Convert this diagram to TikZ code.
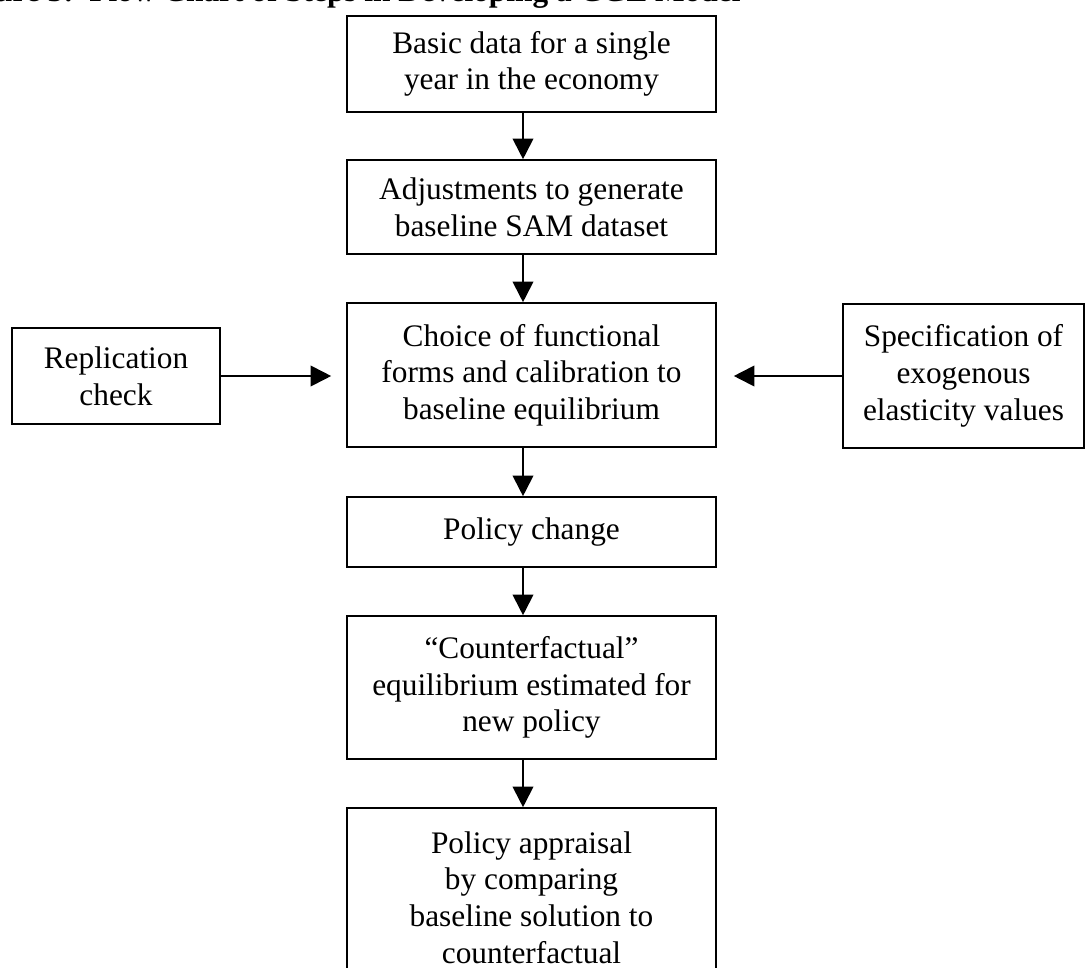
\documentclass[tikz,border=0pt]{standalone}
\usepackage{fontspec}
\setmainfont{Liberation Serif}
\usetikzlibrary{arrows.meta}
\begin{document}
\begin{tikzpicture}[x=0.75pt,y=-0.75pt,
  boxfont/.style={font=\fontsize{23.5}{27.5}\selectfont},
  stepbox/.style={draw,line width=1.2pt,align=center,inner sep=0pt,boxfont,
    minimum width={369*0.75pt}},
  sidebox/.style={draw,line width=1.2pt,align=center,inner sep=0pt,boxfont},
  flow/.style={line width=1.4pt,-{Triangle[length=15.5pt,width=15.5pt]}}]
\useasboundingbox (0,0) rectangle (1086,968);

% heading, partly above the frame
\node[anchor=base west,font=\fontsize{23.5}{27.5}\selectfont\bfseries] (title) at (-53,1)
  {Figure 3:\ \ Flow Chart of Steps in Developing a CGE Model};

% main column
\node[stepbox,minimum height={96*0.75pt}]  (b1) at (531.5,64)    {Basic data for a single\\year in the economy};
\node[stepbox,minimum height={94*0.75pt}]  (b2) at (531.5,207)   {Adjustments to generate\\baseline SAM dataset};
\node[stepbox,minimum height={144*0.75pt}] (b3) at (531.5,375)   {Choice of functional\\forms and calibration to\\baseline equilibrium};
\node[stepbox,minimum height={70*0.75pt}]  (b4) at (531.5,532)   {Policy change};
\node[stepbox,minimum height={143*0.75pt}] (b5) at (531.5,687.5) {``Counterfactual''\\equilibrium estimated for\\new policy};
\node[stepbox,minimum height={179*0.75pt}] (b6) at (531.5,897.5) {Policy appraisal\\by comparing\\baseline solution to\\counterfactual};

% side inputs
\node[sidebox,minimum width={208*0.75pt},minimum height={96*0.75pt}]  (rep)  at (116,376)    {Replication\\check};
\node[sidebox,minimum width={241*0.75pt},minimum height={144*0.75pt}] (spec) at (963.5,376)  {Specification of\\exogenous\\elasticity values};

% connectors
\coordinate (ax) at (523,0);
\draw[flow] (b1.south -| ax) -- (b2.north -| ax);
\draw[flow] (b2.south -| ax) -- (b3.north -| ax);
\draw[flow] (b3.south -| ax) -- (b4.north -| ax);
\draw[flow] (b4.south -| ax) -- (b5.north -| ax);
\draw[flow] (b5.south -| ax) -- (b6.north -| ax);
\draw[flow,shorten >=11.25pt] (rep.east) -- (b3.west |- rep.east);
\draw[flow,shorten >=12.75pt] (spec.west) -- (b3.east |- spec.west);
\end{tikzpicture}
\end{document}
